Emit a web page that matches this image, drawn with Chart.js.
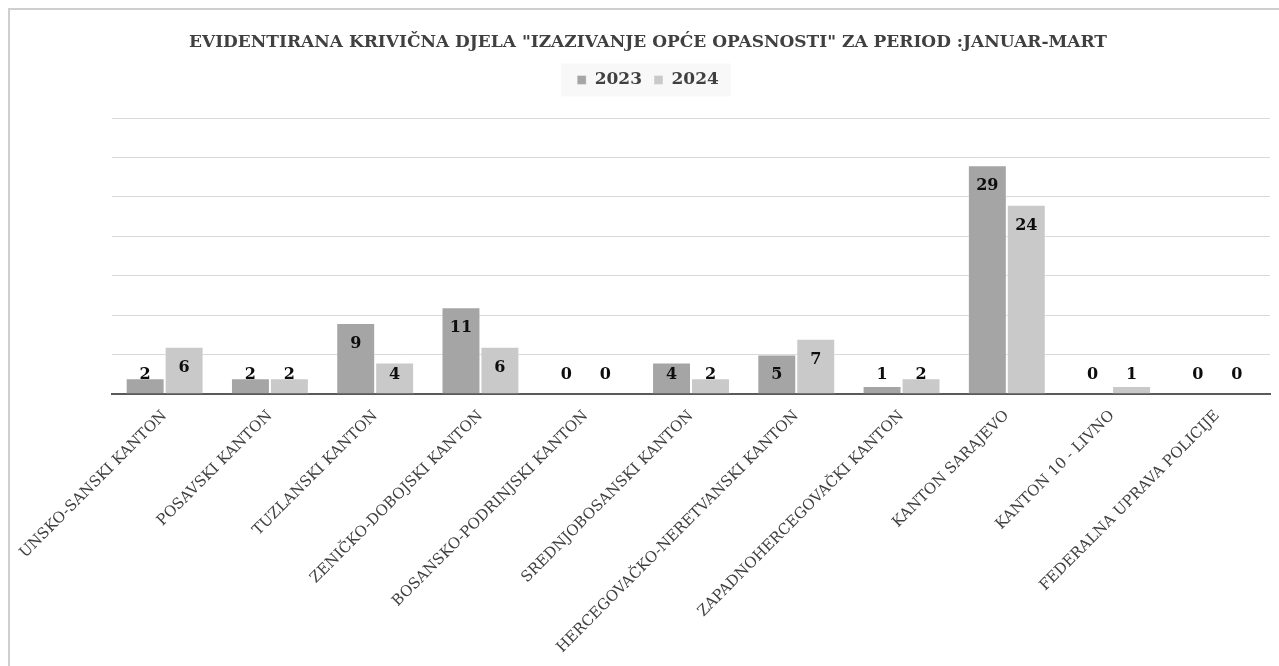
<!DOCTYPE html>
<html>
<head>
<meta charset="utf-8">
<script src="https://cdn.jsdelivr.net/npm/chart.js@4/dist/chart.umd.min.js"></script>
<style>
  html, body { margin: 0; padding: 0; background: #fff; overflow: hidden; }
  #frame { position: absolute; left: 8px; top: 8px; width: 1500px; height: 800px;
           border-left: 2px solid #cfcfcf; border-top: 2px solid #cfcfcf; }
  #wrap { position: absolute; left: 0; top: 0; width: 1276px; height: 690px; }
</style>
</head>
<body>
<div id="frame"><div id="wrap"><canvas id="c"></canvas></div></div>
<script>
var titleText = 'EVIDENTIRANA KRIVIČNA DJELA "IZAZIVANJE OPĆE OPASNOSTI" ZA PERIOD :JANUAR-MART';
var categories = [
  'UNSKO-SANSKI KANTON',
  'POSAVSKI KANTON',
  'TUZLANSKI KANTON',
  'ZENIČKO-DOBOJSKI KANTON',
  'BOSANSKO-PODRINJSKI KANTON',
  'SREDNJOBOSANSKI KANTON',
  'HERCEGOVAČKO-NERETVANSKI KANTON',
  'ZAPADNOHERCEGOVAČKI KANTON',
  'KANTON SARAJEVO',
  'KANTON 10 - LIVNO',
  'FEDERALNA UPRAVA POLICIJE'
];
var values2023 = [2, 2, 9, 11, 0, 4, 5, 1, 29, 0, 0];
var values2024 = [6, 2, 4, 6, 0, 2, 7, 2, 24, 1, 0];

var serif = "'DejaVu Serif', 'Liberation Serif', serif";
var textGray = '#404040';

// value labels just inside the top of each bar, kept above the axis line
var valueLabels = {
  id: 'valueLabels',
  afterDatasetsDraw: function(chart) {
    var ctx = chart.ctx;
    var base = chart.scales.y.getPixelForValue(0);
    ctx.save();
    ctx.font = 'bold 16px ' + serif;
    ctx.fillStyle = '#0d0d0d';
    ctx.textAlign = 'center';
    ctx.textBaseline = 'middle';
    chart.data.datasets.forEach(function(ds, i) {
      chart.getDatasetMeta(i).data.forEach(function(bar, j) {
        var y = Math.min(bar.y + 21, base - 19);
        ctx.fillText(ds.data[j], bar.x, y);
      });
    });
    ctx.restore();
  }
};

// light box behind the legend
var legendBox = {
  id: 'legendBox',
  beforeDraw: function(chart) {
    var hb = chart.legend.legendHitBoxes;
    if (!hb || !hb.length) return;
    var l = hb[0].left - 16, r = hb[hb.length - 1].left + hb[hb.length - 1].width + 12;
    var t = hb[0].top - 8, b = hb[0].top + hb[0].height + 8;
    var ctx = chart.ctx;
    ctx.save();
    ctx.fillStyle = '#f8f8f8';
    ctx.fillRect(l, t, r - l, b - t);
    ctx.restore();
  }
};

// empty strip between legend and plot
var spacer = {
  id: 'spacer',
  beforeInit: function(chart) {
    Chart.layouts.addBox(chart, {
      position: 'top',
      weight: 0,
      fullSize: true,
      options: {},
      width: 0,
      height: 19.6,
      isHorizontal: function() { return true; },
      update: function(maxWidth) { this.width = maxWidth; this.height = 19.6; },
      draw: function() {}
    });
  }
};

var ctx = document.getElementById('c');
var chart = new Chart(ctx, {
  type: 'bar',
  data: {
    labels: categories,
    datasets: [{
      label: '2023',
      data: values2023,
      backgroundColor: '#a5a5a5',
      borderColor: 'rgba(255,255,255,0.35)',
      borderWidth: 1
    }, {
      label: '2024',
      data: values2024,
      backgroundColor: '#c9c9c9',
      borderColor: 'rgba(255,255,255,0.35)',
      borderWidth: 1
    }]
  },
  options: {
    responsive: true,
    maintainAspectRatio: false,
    animation: false,
    layout: { padding: 0 },
    datasets: { bar: { categoryPercentage: 0.74, barPercentage: 1 } },
    plugins: {
      title: {
        display: true,
        text: titleText,
        color: textGray,
        font: { family: serif, size: 17, weight: 'bold' },
        padding: { top: 22, bottom: 7 }
      },
      legend: {
        position: 'top',
        labels: {
          color: textGray,
          boxWidth: 9,
          boxHeight: 9,
          padding: 12,
          font: { family: serif, size: 17, weight: 'bold' }
        }
      },
      tooltip: { enabled: false }
    },
    scales: {
      x: {
        grid: { display: false, drawTicks: false },
        border: { display: true, color: '#595959', width: 2 },
        ticks: {
          color: textGray,
          font: { family: serif, size: 15 },
          minRotation: 45,
          maxRotation: 45,
          autoSkip: false,
          padding: 13
        },
        afterFit: function(scale) {
          scale.paddingLeft = 102;
          scale.paddingRight = 16;
          scale.height = 690 - 384;
        }
      },
      y: {
        min: 0,
        max: 35,
        ticks: { display: false, stepSize: 5 },
        grid: { color: '#d9d9d9', lineWidth: 1, drawTicks: false },
        border: { display: false }
      }
    }
  },
  plugins: [spacer, legendBox, valueLabels]
});
</script>
</body>
</html>
